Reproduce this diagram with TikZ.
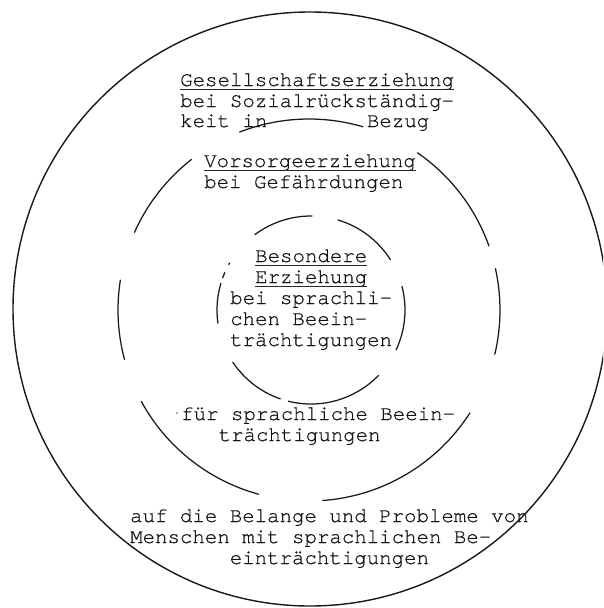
\documentclass[tikz,border=0pt]{standalone}
\usepackage{fontspec}
\setmonofont{TeX Gyre Cursor}[FakeBold=0.6]
\begin{document}
\begin{tikzpicture}[x=1pt,y=-1pt,
  ring/.style={line width=1.25pt, line cap=round, draw=black!90},
  tt/.style={font=\ttfamily\fontsize{20.75}{21}\selectfont, anchor=base west, inner sep=0pt, text=black!92},
  uline/.style={line width=0.9pt, draw=black!85}]
\useasboundingbox (0,0) rectangle (603,608);
\clip (0,0) rectangle (603,608);
\coordinate (o) at (310,309);
\coordinate (m) at (309,310);
\coordinate (i) at (311,310);
% outer ring
\draw[ring, line width=1.4pt] (o) circle[radius=297];
% middle ring
\foreach \a/\b in {-111.3/-73.6, -55.4/-19.6, -12.5/13.4, 32.6/85.9, 151.4/105.3, 189/165, 232/204}
  \draw[ring] ([shift={(\a:191)}]m) arc[start angle=\a, end angle=\b, radius=191];
% inner ring
\foreach \a/\b in {233.3/270.6, -73.3/-32.3, 209/210, 200/203.5, 196.5/172, -14.5/25, 146.3/109, 104/44.2}
  \draw[ring] ([shift={(\a:94)}]i) arc[start angle=\a, end angle=\b, radius=94];
% texts
\node[tt] (g1) at (180,86) {Gesellschaftserziehung};
\node[tt] (g2) at (180,107) {bei Sozialrückständig-};
\node[tt] (g3a) at (180,127) {keit in};
\node[tt] (g3b) at (366.75,127) {Bezug};
\node[tt] (v1) at (204,167) {Vorsorgeerziehung};
\node[tt] (v2) at (204,188) {bei Gefährdungen};
\node[tt] (b1) at (255,262) {Besondere};
\node[tt] (b2) at (255,283) {Erziehung};
\node[tt] (b3) at (230,304) {bei sprachli-};
\node[tt] (b4) at (230,325) {chen Beein-};
\node[tt] (b5) at (230,346) {trächtigungen};
\node[tt] (f1) at (181,420) {für sprachliche Beein-};
\node[tt] (f2) at (218.5,441) {trächtigungen};
\node[tt] (a1) at (130,522) {auf die Belange und Probleme von};
\node[tt] (a2) at (130,543) {Menschen mit sprachlichen Be-};
\node[tt] (a3) at (229.6,564) {einträchtigungen};
% underlines
\foreach \n in {g1,v1,b1,b2}
  \draw[uline] ([yshift=-3.5pt]\n.base west) -- ([yshift=-3.5pt]\n.base east);
% stray dot
\fill[black!70] (177,413) circle[radius=0.8];
\end{tikzpicture}
\end{document}
